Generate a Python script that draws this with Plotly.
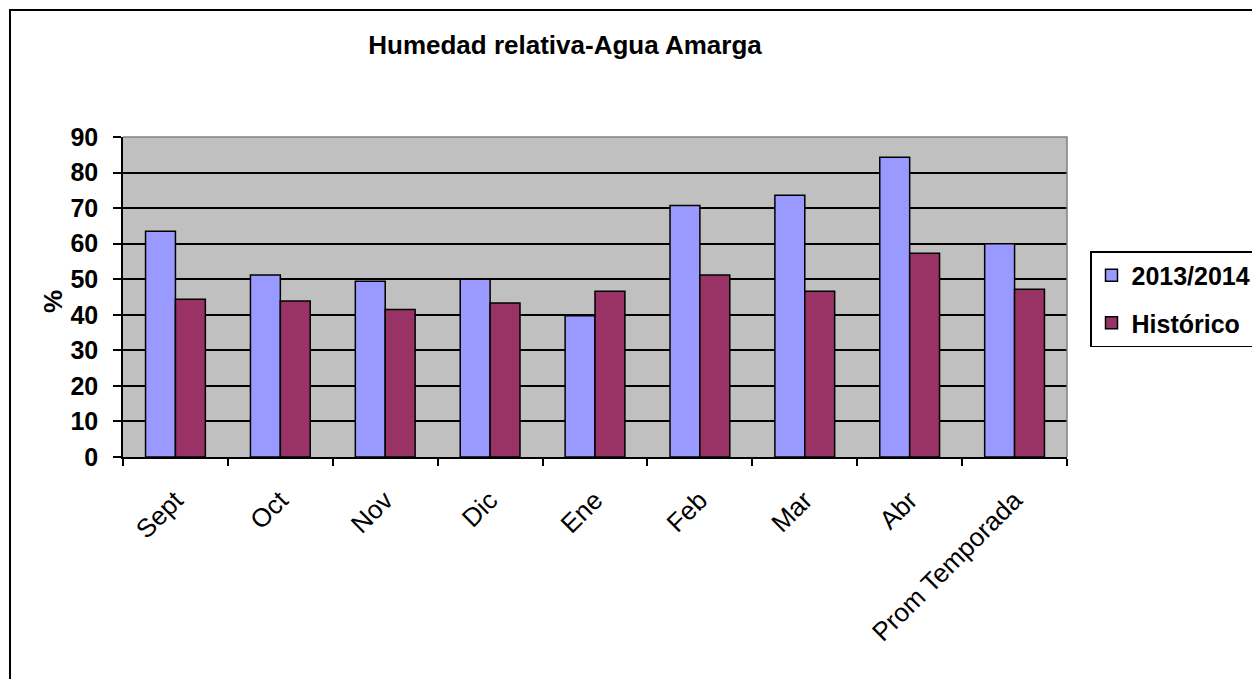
import plotly.graph_objects as go

categories = ["Sept", "Oct", "Nov", "Dic", "Ene", "Feb", "Mar", "Abr", "Prom Temporada"]
serie_2013_2014 = [63.5, 51.2, 49.4, 50.0, 39.7, 70.7, 73.6, 84.3, 60.0]
serie_historico = [44.4, 43.9, 41.5, 43.3, 46.6, 51.2, 46.6, 57.3, 47.2]
y_ticks = [0, 10, 20, 30, 40, 50, 60, 70, 80, 90]

W, H = 1252, 679
L, R, T, B = 123, 1067, 137, 457  # plot area in px

def px_x(px):
    return (px - L) / (R - L)

def px_y(py):
    return (B - py) / (B - T)

FONT = "Liberation Sans, Arial, sans-serif"

fig = go.Figure()
fig.add_trace(go.Bar(
    x=categories, y=serie_2013_2014, name="2013/2014", legendgroup="a",
    marker=dict(color="#9999FF", line=dict(color="black", width=1.5)),
))
fig.add_trace(go.Bar(
    x=categories, y=serie_historico, name="Histórico", legendgroup="b",
    marker=dict(color="#993366", line=dict(color="black", width=1.5)),
))

fig.update_layout(
    width=W, height=H,
    margin=dict(l=L, r=W - R, t=T, b=H - B, pad=0, autoexpand=False),
    paper_bgcolor="white",
    plot_bgcolor="#C0C0C0",
    barmode="group",
    bargap=0.43,
    bargroupgap=0,
    font=dict(family=FONT, color="black"),
    title=dict(
        text="<b>Humedad relativa-Agua Amarga</b>",
        x=565 / W, xanchor="center", xref="container",
        y=1 - 45 / H, yanchor="middle", yref="container",
        font=dict(size=26, family=FONT, color="black"),
    ),
    legend=dict(
        x=px_x(1090), xanchor="left",
        y=px_y(251), yanchor="top",
        bgcolor="white", bordercolor="black", borderwidth=1.5,
        font=dict(size=25, family=FONT, color="black", weight="bold"),
        tracegroupgap=12,
        itemwidth=30,
    ),
    xaxis=dict(
        type="category",
        tickson="boundaries",
        ticks="outside", ticklen=7, tickcolor="black", tickwidth=1.5,
        showline=True, linecolor="black", linewidth=1.5,
        showgrid=False,
        tickangle=-45,
        tickfont=dict(size=26, family=FONT, color="black"),
        ticklabelstandoff=16,
        automargin=False,
    ),
    yaxis=dict(
        range=[0, 90],
        tickvals=y_ticks,
        ticks="outside", ticklen=8, tickcolor="black", tickwidth=1.5,
        showline=True, linecolor="black", linewidth=1.5,
        showgrid=True, gridcolor="black", gridwidth=1.5,
        zeroline=False,
        tickfont=dict(size=25, family=FONT, color="black", weight="bold"),
        ticklabelstandoff=10,
        automargin=False,
    ),
    annotations=[dict(
        text="<b>%</b>", textangle=-90,
        xref="paper", yref="paper",
        x=px_x(53), y=px_y(302), xanchor="center", yanchor="middle",
        showarrow=False,
        font=dict(size=26, family=FONT, color="black"),
    )],
    shapes=[
        # gray top and right borders of plot area
        dict(type="path", xref="paper", yref="paper",
             path="M 0 1 L 1 1 L 1 0", line=dict(color="#808080", width=1.5), layer="above"),
        # chart outer border (cut at right and bottom)
        dict(type="rect", xref="paper", yref="paper",
             x0=px_x(10), y0=px_y(H + 50), x1=px_x(W + 50), y1=px_y(10),
             line=dict(color="black", width=2), layer="below"),
    ],
)

fig.write_html(
    "out.html",
    config={"displayModeBar": False},
    post_script="document.body.style.margin='0';document.body.style.overflow='hidden';",
)
